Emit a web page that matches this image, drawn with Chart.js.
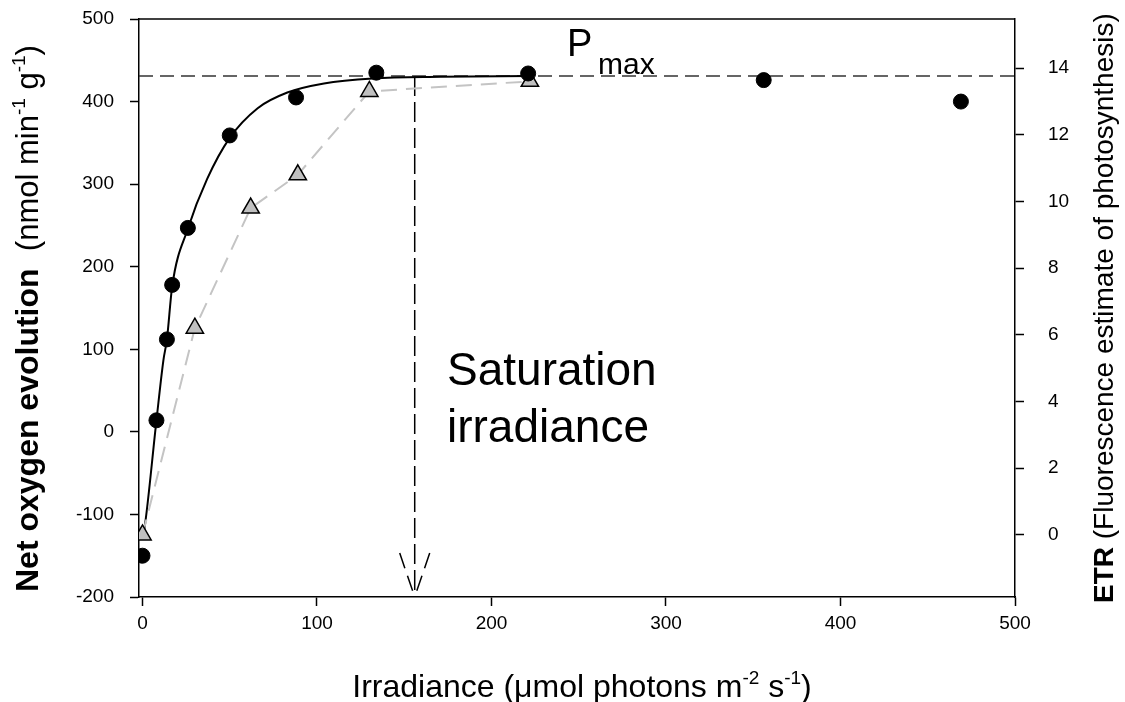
<!DOCTYPE html>
<html>
<head>
<meta charset="utf-8">
<script src="https://cdn.jsdelivr.net/npm/chart.js@4.4.1/dist/chart.umd.min.js"></script>
<style>
  html, body { margin: 0; padding: 0; background: #ffffff; }
  #wrap { width: 1125px; height: 702px; position: relative; }
</style>
</head>
<body>
<div id="wrap"><canvas id="chart" width="1125" height="702"></canvas></div>
<script>
// Irradiance values (µmol photons m-2 s-1) and measured net O2 evolution
const O2_IRRADIANCE = [0, 8, 14, 17, 26, 50, 88, 134, 221, 356, 469];
const O2_VALUES     = [-150, 14, 112, 178, 247, 359, 405, 435, 434, 426, 400];

// Fitted light-response curve
const FIT_IRRADIANCE = [0, 1, 8, 12, 14, 17, 26, 37, 50, 66, 83, 104, 132, 171, 222];
const FIT_VALUES     = [-128, -119, 14, 87, 112, 176, 246, 306, 356, 392, 411, 422, 428, 430, 431];

// ETR (fluorescence) on the right axis
const ETR_IRRADIANCE = [0, 30, 62, 89, 130, 222];
const ETR_VALUES     = [0, 6.2, 9.8, 10.8, 13.3, 13.6];

const PMAX = 431;
const SAT_IRRADIANCE = 156;

const X_TICKS   = [0, 100, 200, 300, 400, 500];
const Y_TICKS   = [-200, -100, 0, 100, 200, 300, 400, 500];
const ETR_TICKS = [0, 2, 4, 6, 8, 10, 12, 14];

const FONT = '"Liberation Sans", Arial, Helvetica, sans-serif';
Chart.defaults.font.family = FONT;
Chart.defaults.color = '#000';

const pts = (xs, ys) => xs.map((x, i) => ({ x, y: ys[i] }));

// draws a run of text pieces (normal / bold / superscript) starting at 0,0
function drawRich(ctx, pieces) {
    let x = 0;
    pieces.forEach(p => {
        ctx.font = p.font;
        ctx.fillText(p.t, x, p.dy || 0);
        x += ctx.measureText(p.t).width;
    });
    return x;
}
function richWidth(ctx, pieces) {
    return pieces.reduce((w, p) => { ctx.font = p.font; return w + ctx.measureText(p.t).width; }, 0);
}

const annotations = {
    id: 'annotations',
    afterDatasetsDraw(chart) {
        const { ctx, scales: { x, y } } = chart;
        const px = x.getPixelForValue(SAT_IRRADIANCE);
        const tip = y.getPixelForValue(-200);
        // arrow head of the saturation line
        ctx.save();
        ctx.strokeStyle = '#000';
        ctx.lineWidth = 1.5;
        ctx.setLineDash([16, 8]);
        [-15, 15].forEach(dx => {
            ctx.beginPath();
            ctx.moveTo(px + dx, tip - 44);
            ctx.lineTo(px, tip);
            ctx.stroke();
        });
        ctx.restore();
    },
    afterDraw(chart) {
        const { ctx, chartArea: a } = chart;
        ctx.save();
        // top frame line
        ctx.strokeStyle = '#000';
        ctx.lineWidth = 1.5;
        ctx.beginPath();
        ctx.moveTo(a.left, a.top);
        ctx.lineTo(a.right, a.top);
        ctx.stroke();

        ctx.fillStyle = '#000';
        ctx.textBaseline = 'alphabetic';
        ctx.textAlign = 'left';

        // P max label
        ctx.font = `38px ${FONT}`;
        ctx.fillText('P', 567, 56);
        ctx.font = `30px ${FONT}`;
        ctx.fillText('max', 598, 74);

        // Saturation irradiance label
        ctx.font = `46px ${FONT}`;
        ctx.fillText('Saturation', 447, 385);
        ctx.fillText('irradiance', 447, 442);

        // x axis title
        const xt = [
            { t: 'Irradiance (\u03bcmol photons m', font: `32px ${FONT}` },
            { t: '-2', font: `19px ${FONT}`, dy: -13 },
            { t: ' s', font: `32px ${FONT}` },
            { t: '-1', font: `19px ${FONT}`, dy: -13 },
            { t: ')', font: `32px ${FONT}` },
        ];
        ctx.save();
        ctx.translate(582 - richWidth(ctx, xt) / 2, 697);
        drawRich(ctx, xt);
        ctx.restore();

        // left axis title
        const lt = [
            { t: 'Net oxygen evolution', font: `bold 32px ${FONT}` },
            { t: '  (nmol min', font: `31px ${FONT}` },
            { t: '-1', font: `19px ${FONT}`, dy: -13 },
            { t: ' g', font: `31px ${FONT}` },
            { t: '-1', font: `19px ${FONT}`, dy: -13 },
            { t: ')', font: `31px ${FONT}` },
        ];
        ctx.save();
        ctx.translate(38, 592);
        ctx.rotate(-Math.PI / 2);
        drawRich(ctx, lt);
        ctx.restore();

        // right axis title
        const rt = [
            { t: 'ETR', font: `bold 28px ${FONT}` },
            { t: ' (Fluorescence estimate of photosynthesis)', font: `28px ${FONT}` },
        ];
        ctx.save();
        ctx.translate(1113, 603);
        ctx.rotate(-Math.PI / 2);
        drawRich(ctx, rt);
        ctx.restore();

        ctx.restore();
    }
};

const axisStyle = {
    border: { display: true, color: '#000', width: 1.5 },
    grid: { drawOnChartArea: false, drawTicks: true, tickLength: 9, tickWidth: 1.5, tickColor: '#000' },
    ticks: { color: '#000', font: { size: 19, family: FONT } },
};

new Chart(document.getElementById('chart'), {
    type: 'scatter',
    data: {
        datasets: [
            {
                label: 'O2 evolution',
                data: pts(O2_IRRADIANCE, O2_VALUES),
                yAxisID: 'y',
                showLine: false,
                pointStyle: 'circle',
                pointRadius: 7.5,
                backgroundColor: '#000',
                borderColor: '#000',
                order: 0,
            },
            {
                label: 'ETR',
                data: pts(ETR_IRRADIANCE, ETR_VALUES),
                yAxisID: 'y2',
                showLine: true,
                borderColor: '#c4c4c4',
                borderWidth: 2,
                borderDash: [16, 9],
                pointStyle: 'triangle',
                pointRadius: 10,
                pointBackgroundColor: '#c0c0c0',
                pointBorderColor: '#000',
                pointBorderWidth: 1.5,
                order: 1,
            },
            {
                label: 'fit',
                data: pts(FIT_IRRADIANCE, FIT_VALUES),
                yAxisID: 'y',
                showLine: true,
                borderColor: '#000',
                borderWidth: 2,
                cubicInterpolationMode: 'monotone',
                pointRadius: 0,
                order: 2,
            },
            {
                label: 'Pmax',
                data: pts([-2, 500], [PMAX, PMAX]),
                yAxisID: 'y',
                showLine: true,
                borderColor: '#333',
                borderWidth: 1.5,
                borderDash: [14, 7],
                pointRadius: 0,
                order: 3,
            },
            {
                label: 'saturation',
                data: pts([SAT_IRRADIANCE, SAT_IRRADIANCE], [PMAX, -200]),
                yAxisID: 'y',
                showLine: true,
                borderColor: '#000',
                borderWidth: 1.5,
                borderDash: [20, 6],
                pointRadius: 0,
                order: 4,
            },
        ],
    },
    options: {
        responsive: false,
        animation: false,
        events: [],
        layout: { padding: { top: 19, left: 0, right: 0, bottom: 0 } },
        plugins: { legend: { display: false }, tooltip: { enabled: false } },
        scales: {
            x: {
                ...axisStyle,
                type: 'linear',
                position: 'bottom',
                min: -2,
                max: 500,
                ticks: { ...axisStyle.ticks, padding: 6 },
                afterBuildTicks: s => { s.ticks = X_TICKS.map(value => ({ value })); },
                afterFit: s => { s.height = 105; s.paddingLeft = 0; s.paddingRight = 0; },
            },
            y: {
                ...axisStyle,
                position: 'left',
                min: -200,
                max: 500,
                ticks: { ...axisStyle.ticks, padding: 16 },
                afterBuildTicks: s => { s.ticks = Y_TICKS.map(value => ({ value })); },
                afterFit: s => { s.width = 139; s.paddingTop = 0; s.paddingBottom = 0; },
            },
            y2: {
                ...axisStyle,
                position: 'right',
                min: -1.86,
                max: 15.47,
                ticks: { ...axisStyle.ticks, padding: 24 },
                afterBuildTicks: s => { s.ticks = ETR_TICKS.map(value => ({ value })); },
                afterFit: s => { s.width = 110; s.paddingTop = 0; s.paddingBottom = 0; },
            },
        },
    },
    plugins: [annotations],
});
</script>
</body>
</html>
